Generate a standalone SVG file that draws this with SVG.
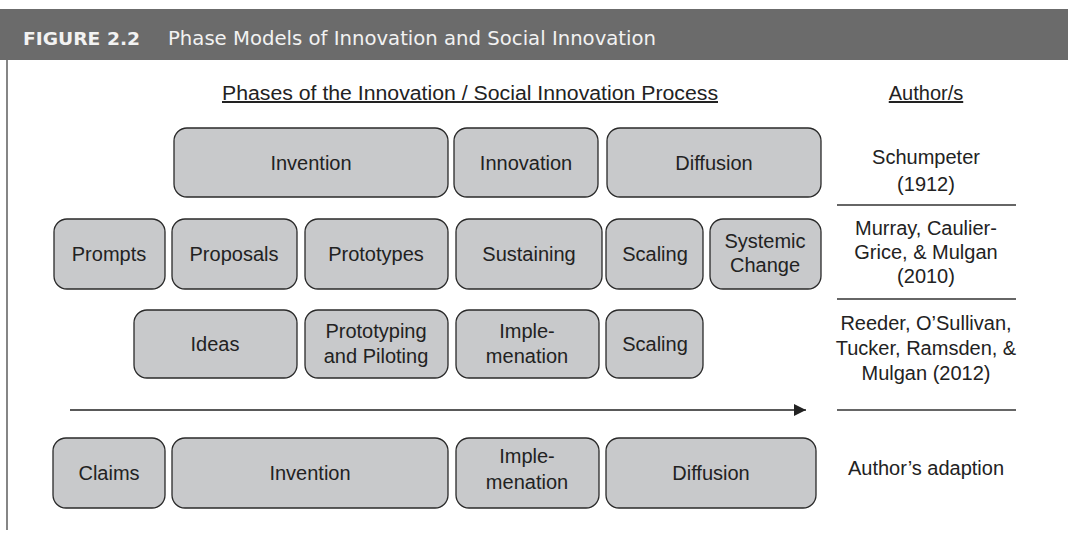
<svg xmlns="http://www.w3.org/2000/svg" width="1068" height="534" viewBox="0 0 1068 534">
<style>
.box{fill:#c8c9cb;stroke:#2a2a2a;stroke-width:1.3}
.t{font-family:"Liberation Sans",Arial,sans-serif;font-size:20px;fill:#222;text-anchor:middle}
.h{font-family:"Liberation Sans",Arial,sans-serif;font-size:20px;fill:#222;text-decoration:underline}
.sep{stroke:#333;stroke-width:1.3}
</style>
<defs>
<marker id="ah" markerWidth="12" markerHeight="12" refX="12" refY="6" orient="auto" markerUnits="userSpaceOnUse">
<path d="M0,0 L12,6 L0,12 Z" fill="#222"/>
</marker>
</defs>
<rect width="1068" height="534" fill="#fff"/>
<g id="header">
<rect x="0" y="9" width="1068" height="51" fill="#6b6b6b"/>
<text x="23" y="45" font-family="DejaVu Sans Condensed,DejaVu Sans,sans-serif" font-weight="bold" font-size="18" fill="#f2f2f2" textLength="117" lengthAdjust="spacingAndGlyphs">FIGURE 2.2</text>
<text x="168" y="45" font-family="DejaVu Sans Condensed,DejaVu Sans,sans-serif" font-size="20" fill="#f2f2f2" textLength="488" lengthAdjust="spacingAndGlyphs">Phase Models of Innovation and Social Innovation</text>
<line x1="7" y1="60" x2="7" y2="530" stroke="#444" stroke-width="1.3"/>
</g>
<g id="headings">
<text class="h" x="222" y="100" textLength="496" lengthAdjust="spacingAndGlyphs">Phases of the Innovation / Social Innovation Process</text>
<text class="h" x="926" y="100" text-anchor="middle">Author/s</text>
</g>
<g id="row1">
<g id="r1-invention"><rect class="box" x="174" y="128" width="274" height="69" rx="13"/><text class="t" x="311" y="170">Invention</text></g>
<g id="r1-innovation"><rect class="box" x="454" y="128" width="144" height="69" rx="13"/><text class="t" x="526" y="170">Innovation</text></g>
<g id="r1-diffusion"><rect class="box" x="607" y="128" width="214" height="69" rx="13"/><text class="t" x="714" y="170">Diffusion</text></g>
</g>
<g id="row2">
<g id="r2-prompts"><rect class="box" x="54" y="219" width="111" height="70" rx="13"/><text class="t" x="109" y="261">Prompts</text></g>
<g id="r2-proposals"><rect class="box" x="172" y="219" width="125" height="70" rx="13"/><text class="t" x="234" y="261">Proposals</text></g>
<g id="r2-prototypes"><rect class="box" x="305" y="219" width="143" height="70" rx="13"/><text class="t" x="376" y="261">Prototypes</text></g>
<g id="r2-sustaining"><rect class="box" x="456" y="219" width="146" height="70" rx="13"/><text class="t" x="529" y="261">Sustaining</text></g>
<g id="r2-scaling"><rect class="box" x="606" y="219" width="97" height="70" rx="13"/><text class="t" x="655" y="261">Scaling</text></g>
<g id="r2-systemic"><rect class="box" x="710" y="219" width="111" height="70" rx="13"/><text class="t" x="765" y="248">Systemic</text><text class="t" x="765" y="272">Change</text></g>
</g>
<g id="row3">
<g id="r3-ideas"><rect class="box" x="134" y="310" width="163" height="68" rx="13"/><text class="t" x="215" y="351">Ideas</text></g>
<g id="r3-prototyping"><rect class="box" x="305" y="310" width="143" height="68" rx="13"/><text class="t" x="376" y="338">Prototyping</text><text class="t" x="376" y="363">and Piloting</text></g>
<g id="r3-implementation"><rect class="box" x="456" y="310" width="143" height="68" rx="13"/><text class="t" x="527" y="338">Imple-</text><text class="t" x="527" y="363">menation</text></g>
<g id="r3-scaling"><rect class="box" x="606" y="310" width="97" height="68" rx="13"/><text class="t" x="655" y="351">Scaling</text></g>
</g>
<g id="row4">
<g id="r4-claims"><rect class="box" x="53" y="438" width="112" height="70" rx="13"/><text class="t" x="109" y="480">Claims</text></g>
<g id="r4-invention"><rect class="box" x="172" y="438" width="276" height="70" rx="13"/><text class="t" x="310" y="480">Invention</text></g>
<g id="r4-implementation"><rect class="box" x="456" y="438" width="143" height="70" rx="13"/><text class="t" x="527" y="463">Imple-</text><text class="t" x="527" y="489">menation</text></g>
<g id="r4-diffusion"><rect class="box" x="606" y="438" width="210" height="70" rx="13"/><text class="t" x="711" y="480">Diffusion</text></g>
</g>
<g id="authors">
<g id="a-schumpeter"><text class="t" x="926" y="164">Schumpeter</text><text class="t" x="926" y="191">(1912)</text></g>
<g id="a-murray"><text class="t" x="926" y="235">Murray, Caulier-</text><text class="t" x="926" y="259">Grice, &amp; Mulgan</text><text class="t" x="926" y="283">(2010)</text></g>
<g id="a-reeder"><text class="t" x="926" y="330">Reeder, O’Sullivan,</text><text class="t" x="926" y="355">Tucker, Ramsden, &amp;</text><text class="t" x="926" y="380">Mulgan (2012)</text></g>
<g id="a-adaption"><text class="t" x="926" y="475">Author’s adaption</text></g>
</g>
<g id="connectors">
<line class="sep" x1="837" y1="205" x2="1016" y2="205"/>
<line class="sep" x1="837" y1="299" x2="1016" y2="299"/>
<line class="sep" x1="837" y1="410" x2="1016" y2="410"/>
<line x1="70" y1="410" x2="806" y2="410" stroke="#222" stroke-width="1.3" marker-end="url(#ah)"/>
</g>
</svg>
